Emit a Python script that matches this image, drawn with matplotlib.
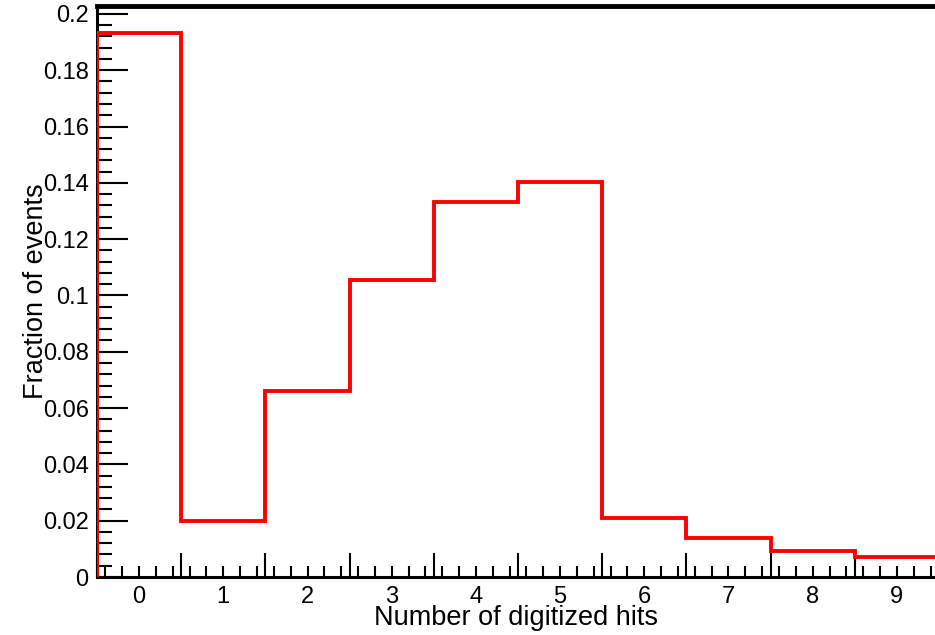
import numpy as np
import matplotlib.pyplot as plt
from matplotlib.ticker import MultipleLocator
from matplotlib.transforms import blended_transform_factory

plt.rcParams['font.family'] = ['Liberation Sans', 'DejaVu Sans']

# Fraction of events per number of digitized hits
hits = [0, 1, 2, 3, 4, 5, 6, 7, 8, 9]
fraction = [0.1932, 0.0199, 0.0661, 0.1055, 0.1332, 0.1403, 0.0210, 0.0139, 0.0092, 0.0071]

edges = np.arange(len(hits) + 1) - 0.5

fig = plt.figure(figsize=(9.35, 6.35), dpi=100)
ax = fig.add_axes([97 / 935, 58 / 635, 842 / 935, 571 / 635])

ax.stairs(fraction, edges, baseline=0, color='#ff0000', lw=2.8, zorder=3)

ax.set_xlim(-0.5, 9.5)
ax.set_ylim(0, 0.2028)

# ROOT-like frame
for side in ['left', 'bottom']:
    ax.spines[side].set_linewidth(2.2)
ax.spines['top'].set_linewidth(3.5)
ax.spines['right'].set_visible(False)

ax.yaxis.set_minor_locator(MultipleLocator(0.004))
ax.tick_params(axis='y', which='major', direction='in', length=22, width=1.5,
               labelsize=17, pad=6)
ax.tick_params(axis='y', which='minor', direction='in', length=11, width=1.5)
ax.set_yticks(np.arange(0, 0.201, 0.02))
ax.set_yticklabels(['0', '0.02', '0.04', '0.06', '0.08', '0.1', '0.12',
                    '0.14', '0.16', '0.18', '0.2'])

# bin edges as major ticks, labels at bin centres
ax.set_xticks(edges)
ax.set_xticklabels([])
ax.xaxis.set_minor_locator(MultipleLocator(0.2))
ax.tick_params(axis='x', which='major', direction='in', length=17, width=1.5)
ax.tick_params(axis='x', which='minor', direction='in', length=8, width=1.5)
trans = blended_transform_factory(ax.transData, ax.transAxes)
for h in hits:
    ax.text(h, -0.0155, str(h), transform=trans, ha='center', va='top', fontsize=17)

ax.set_xlabel('Number of digitized hits', fontsize=19.5)
ax.xaxis.set_label_coords(0.498, -0.071)
ax.set_ylabel('Fraction of events', fontsize=19.5)
ax.yaxis.set_label_coords(-0.072, 0.5)
ax.xaxis.label.set_va('center')
ax.yaxis.label.set_va('center')

fig.savefig('out.png', dpi=100)
